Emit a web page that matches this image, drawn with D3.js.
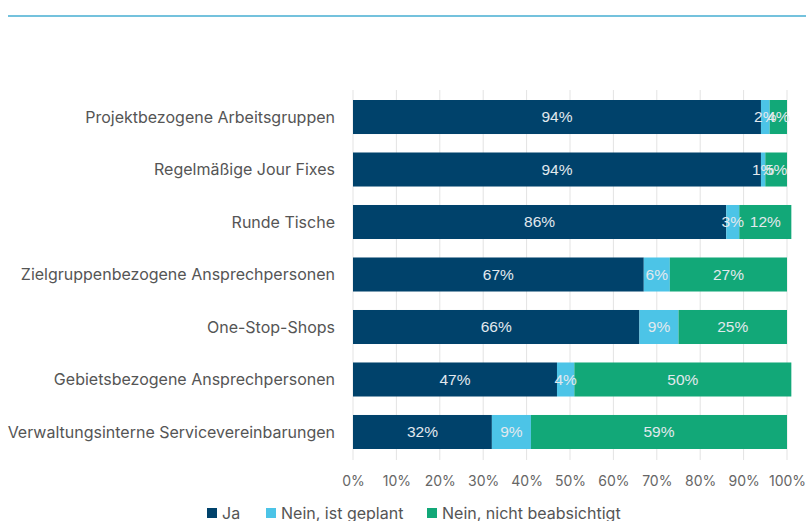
<!DOCTYPE html>
<html>
<head>
<meta charset="utf-8">
<script src="https://cdn.jsdelivr.net/npm/d3@7"></script>
<style>
  body { margin: 0; background: #fff; }
  svg { display: block; }
</style>
</head>
<body>
<div id="chart"></div>
<script>
var categories = [
  'Projektbezogene Arbeitsgruppen',
  'Regelmäßige Jour Fixes',
  'Runde Tische',
  'Zielgruppenbezogene Ansprechpersonen',
  'One-Stop-Shops',
  'Gebietsbezogene Ansprechpersonen',
  'Verwaltungsinterne Servicevereinbarungen'
];
var seriesNames = ['Ja', 'Nein, ist geplant', 'Nein, nicht beabsichtigt'];
var ja = [94, 94, 86, 67, 66, 47, 32];
var geplant = [2, 1, 3, 6, 9, 4, 9];
var nicht = [4, 5, 12, 27, 25, 50, 59];
var tickValues = [0, 10, 20, 30, 40, 50, 60, 70, 80, 90, 100];
var colors = ['#00426b', '#4cc4e7', '#12a878'];

var w = 806, h = 521;
var margin = { left: 353, right: 19, top: 100, bottom: 72 };

var rows = categories.map(function(c, i) {
  return { cat: c, values: [ja[i], geplant[i], nicht[i]] };
});

var svg = d3.select('#chart').append('svg')
  .attr('width', w)
  .attr('height', h);

// top rule
svg.append('rect')
  .attr('x', 8).attr('y', 15)
  .attr('width', w - 8).attr('height', 2)
  .attr('fill', '#74c2dd');

var x = d3.scaleLinear().domain([0, 100]).range([margin.left, w - margin.right]);
var y = d3.scaleBand().domain(categories).range([margin.top, 449]).paddingInner(0.352).paddingOuter(0);

// gridlines
svg.selectAll('line.grid')
  .data(tickValues)
  .enter().append('line')
    .attr('class', 'grid')
    .attr('x1', function(d){ return x(d); })
    .attr('x2', function(d){ return x(d); })
    .attr('y1', 90)
    .attr('y2', 460)
    .style('stroke', '#e3e3e3')
    .style('stroke-width', 1);

// bars
var rowG = svg.selectAll('g.row')
  .data(rows)
  .enter().append('g')
    .attr('class', 'row')
    .attr('transform', function(d){ return 'translate(0,' + y(d.cat) + ')'; });

rowG.each(function(d) {
  var g = d3.select(this);
  var start = 0;
  var segs = d.values.map(function(v, k) {
    var s = { v: v, k: k, x0: start };
    start += v;
    return s;
  });
  g.selectAll('rect')
    .data(segs)
    .enter().append('rect')
      .attr('x', function(s){ return x(s.x0); })
      .attr('y', 0)
      .attr('width', function(s){ return x(s.x0 + s.v) - x(s.x0); })
      .attr('height', y.bandwidth())
      .attr('fill', function(s){ return colors[s.k]; });
  g.selectAll('text')
    .data(segs)
    .enter().append('text')
      .attr('x', function(s){ return x(s.x0 + s.v / 2); })
      .attr('y', y.bandwidth() / 2)
      .attr('dy', '0.35em')
      .attr('text-anchor', 'middle')
      .style('font-family', '"Liberation Sans", Arial, sans-serif')
      .style('font-size', '15.5px')
      .style('fill', '#e2e9ee')
      .text(function(s){ return s.v + '%'; });
});

// category labels
svg.selectAll('text.cat')
  .data(categories)
  .enter().append('text')
    .attr('class', 'cat')
    .attr('x', 335)
    .attr('y', function(d){ return y(d) + y.bandwidth() / 2; })
    .attr('dy', '0.35em')
    .attr('text-anchor', 'end')
    .style('font-family', 'Inter, "Noto Sans", sans-serif')
    .style('font-size', '16px')
    .style('fill', '#555')
    .text(function(d){ return d; });

// x axis tick labels
var xAxis = d3.axisBottom(x)
  .tickValues(tickValues)
  .tickSize(0)
  .tickFormat(function(d){ return d + '%'; });
var ax = svg.append('g')
  .attr('transform', 'translate(0,473)')
  .call(xAxis);
ax.select('.domain').remove();
ax.selectAll('text')
  .style('font-family', 'Inter, "Noto Sans", sans-serif')
  .style('font-size', '14px')
  .style('fill', '#666');

// legend
var legendX = [207, 266, 427];
var lg = svg.selectAll('g.legend')
  .data(seriesNames)
  .enter().append('g')
    .attr('class', 'legend')
    .attr('transform', function(d, i){ return 'translate(' + legendX[i] + ',508)'; });
lg.append('rect')
  .attr('width', 10).attr('height', 10)
  .attr('fill', function(d, i){ return colors[i]; });
lg.append('text')
  .attr('x', 15).attr('y', 5)
  .attr('dy', '0.4em')
  .style('font-family', 'Inter, "Noto Sans", sans-serif')
  .style('font-size', '16px')
  .style('fill', '#555')
  .text(function(d){ return d; });
</script>
</body>
</html>
